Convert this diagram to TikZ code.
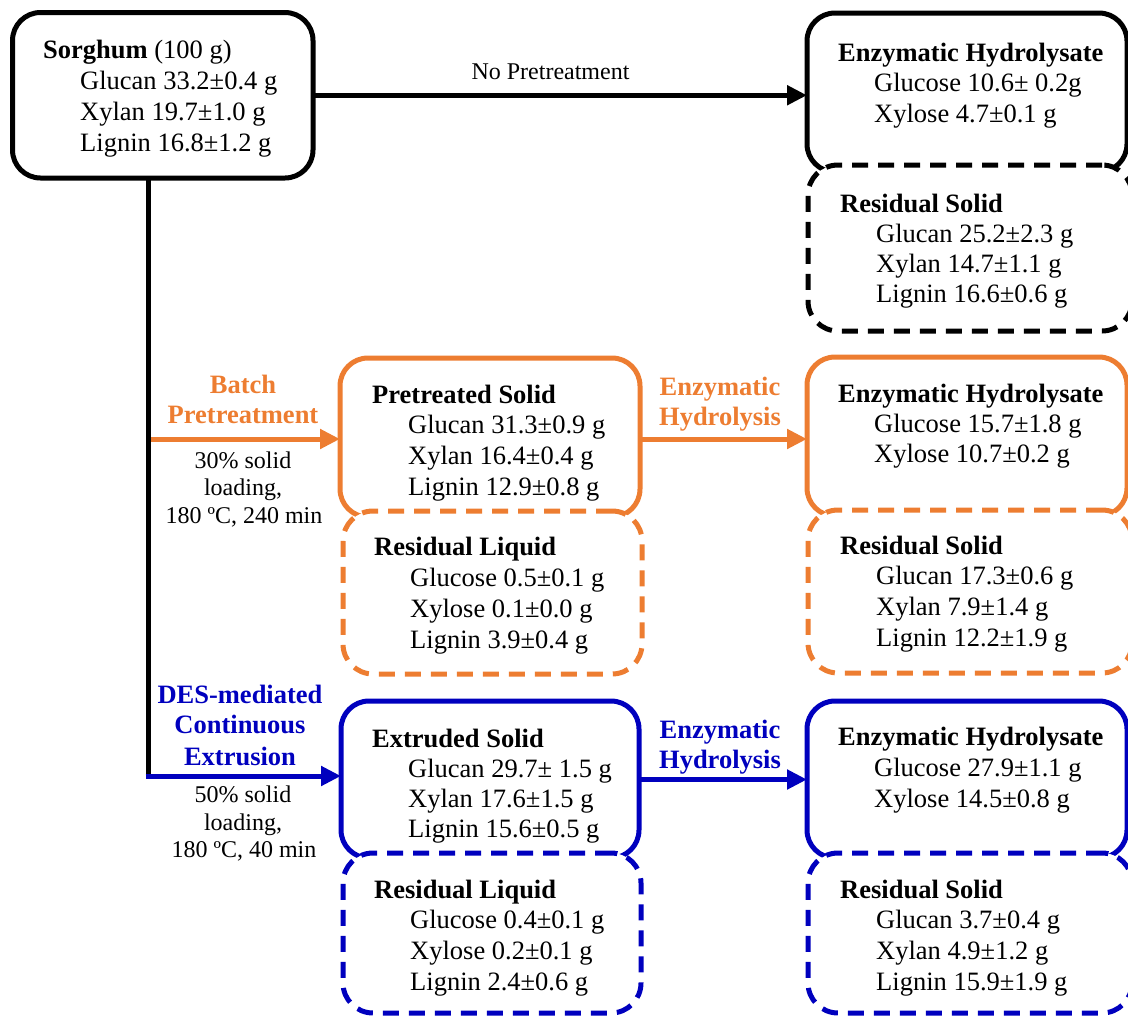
\documentclass[tikz,border=0pt]{standalone}
\usepackage{fontspec}
\setmainfont{Liberation Serif}
\usetikzlibrary{arrows.meta}
\definecolor{myorange}{RGB}{237,125,49}
\definecolor{myblue}{RGB}{0,0,190}
\newcommand\boxlines[7]{% prefix, title x, title baseline, step, colour, title, list
  \node[txt,anchor=base west] (#1t) at (#2,#3) {\textbf{#6}};
  \foreach \l [count=\i] in {#7}
    \node[txt,anchor=base west] (#1\i) at (#2+36,#3+#4*\i) {\l};
}
\begin{document}
\begin{tikzpicture}[x=1pt,y=-1pt,
  txt/.style={inner sep=0pt,font=\fontsize{26.5}{31}\selectfont},
  small/.style={inner sep=0pt,anchor=base,font=\fontsize{24}{27}\selectfont},
  lab/.style={inner sep=0pt,anchor=base,font=\fontsize{26.5}{31}\selectfont\bfseries},
  solidbox/.style={draw,line width=5pt,rounded corners=28pt,anchor=north west,inner sep=0pt,outer sep=0pt},
  dashbox/.style={solidbox,fill=white,rounded corners=30pt,dash pattern=on 16pt off 10pt},
  conn/.style={line width=5pt},
  arr/.style={line width=5pt,-{Triangle[length=20pt,width=19pt]}}]
\useasboundingbox (0,0) rectangle (1128,1018);

% boxes
\node[solidbox,minimum width=300.5pt,minimum height=165.5pt] (S) at (12.5,12.5) {};
\node[solidbox,minimum width=320pt,minimum height=159pt] (tEH) at (807,13) {};
\node[dashbox,minimum width=324pt,minimum height=166pt] (tRS) at (808,165) {};

\node[solidbox,draw=myorange,minimum width=300pt,minimum height=159pt] (PS) at (340,358) {};
\node[dashbox,draw=myorange,minimum width=299pt,minimum height=163pt] (oRL) at (343,511) {};
\node[solidbox,draw=myorange,minimum width=320pt,minimum height=159pt] (oEH) at (807,357) {};
\node[dashbox,draw=myorange,minimum width=324pt,minimum height=163pt] (oRS) at (808,510) {};

\node[solidbox,draw=myblue,minimum width=298pt,minimum height=157pt] (ES) at (341,701) {};
\node[dashbox,draw=myblue,minimum width=298pt,minimum height=160pt] (bRL) at (343,853) {};
\node[solidbox,draw=myblue,minimum width=320pt,minimum height=157pt] (bEH) at (807,701) {};
\node[dashbox,draw=myblue,minimum width=324pt,minimum height=160pt] (bRS) at (808,853) {};

% connectors
\coordinate (ob) at (148,439);
\coordinate (bb) at (148,776);
\draw[arr] (S.east) -- (S.east -| tEH.west);
\draw[conn,myorange,arr] (ob) -- (ob -| PS.west);
\draw[conn,myorange,arr] (PS.east |- ob) -- (oEH.west |- ob);
\draw[conn,myblue,arr] ([xshift=-2.5pt]bb) -- (bb -| ES.west);
\draw[conn,myblue,arr] (ES.east) -- (ES.east -| bEH.west);
\draw[conn] (S.south -| bb) -- ([yshift=2.5pt]bb);

% texts
\node[txt,anchor=base west] (St) at (43,58) {\textbf{Sorghum} (100 g)};
\foreach \l [count=\i] in {Glucan 33.2±0.4 g,Xylan 19.7±1.0 g,Lignin 16.8±1.2 g}
  \node[txt,anchor=base west] (S\i) at (80,58+31.3*\i) {\l};
\boxlines{tEH}{838}{61}{30.5}{black}{Enzymatic Hydrolysate}{Glucose 10.6± 0.2g,Xylose 4.7±0.1 g}
\boxlines{tRS}{840}{212}{30}{black}{Residual Solid}{Glucan 25.2±2.3 g,Xylan 14.7±1.1 g,Lignin 16.6±0.6 g}

\boxlines{PS}{372}{403}{30.7}{black}{Pretreated Solid}{Glucan 31.3±0.9 g,Xylan 16.4±0.4 g,Lignin 12.9±0.8 g}
\boxlines{oRL}{374}{555}{31}{black}{Residual Liquid}{Glucose 0.5±0.1 g,Xylose 0.1±0.0 g,Lignin 3.9±0.4 g}
\boxlines{oEH}{838}{402}{30}{black}{Enzymatic Hydrolysate}{Glucose 15.7±1.8 g,Xylose 10.7±0.2 g}
\boxlines{oRS}{840}{554}{30.7}{black}{Residual Solid}{Glucan 17.3±0.6 g,Xylan 7.9±1.4 g,Lignin 12.2±1.9 g}

\boxlines{ES}{372}{747}{30}{black}{Extruded Solid}{Glucan 29.7± 1.5 g,Xylan 17.6±1.5 g,Lignin 15.6±0.5 g}
\boxlines{bRL}{374}{898}{30.7}{black}{Residual Liquid}{Glucose 0.4±0.1 g,Xylose 0.2±0.1 g,Lignin 2.4±0.6 g}
\boxlines{bEH}{838}{745}{31}{black}{Enzymatic Hydrolysate}{Glucose 27.9±1.1 g,Xylose 14.5±0.8 g}
\boxlines{bRS}{840}{898}{30.7}{black}{Residual Solid}{Glucan 3.7±0.4 g,Xylan 4.9±1.2 g,Lignin 15.9±1.9 g}

% connector labels
\node[small] (np) at (550.5,79) {No Pretreatment};
\node[lab,text=myorange] (bp1) at (243,393) {Batch};
\node[lab,text=myorange] (bp2) at (243,423) {Pretreatment};
\node[small] (bc1) at (243,468) {30\% solid};
\node[small] (bc2) at (243,495) {loading,};
\node[small] (bc3) at (244,523) {180 ºC, 240 min};
\node[lab,text=myblue] (de1) at (240,703) {DES-mediated};
\node[lab,text=myblue] (de2) at (240,733) {Continuous};
\node[lab,text=myblue] (de3) at (240,765) {Extrusion};
\node[small] (dc1) at (243,802) {50\% solid};
\node[small] (dc2) at (243,830) {loading,};
\node[small] (dc3) at (244,857) {180 ºC, 40 min};
\node[lab,text=myorange] (oh1) at (720,395) {Enzymatic};
\node[lab,text=myorange] (oh2) at (720,425) {Hydrolysis};
\node[lab,text=myblue] (bh1) at (720,738) {Enzymatic};
\node[lab,text=myblue] (bh2) at (720,768) {Hydrolysis};
\end{tikzpicture}
\end{document}
